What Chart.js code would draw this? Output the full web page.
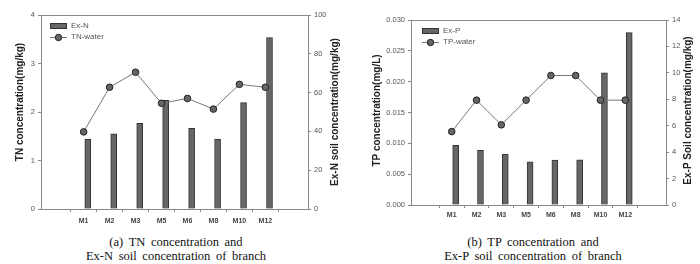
<!DOCTYPE html>
<html>
<head>
<meta charset="utf-8">
<script src="https://cdn.jsdelivr.net/npm/chart.js@4.4.1/dist/chart.umd.min.js"></script>
<style>
  html, body { margin: 0; padding: 0; background: #fff; }
  #wrap { position: relative; width: 700px; height: 264px; overflow: hidden; }
  .panel { position: absolute; top: 0; width: 350px; height: 235px; }
  .cap {
    position: absolute; top: 235px; width: 352px; text-align: center;
    font-family: "Liberation Serif", "Times New Roman", serif;
    font-size: 12.5px; line-height: 14px; word-spacing: 2.5px; color: #111;
  }
</style>
</head>
<body>
<div id="wrap">
  <div class="panel" style="left:0"><canvas id="chartA" width="350" height="235"></canvas></div>
  <div class="panel" style="left:350px"><canvas id="chartB" width="350" height="235"></canvas></div>
  <div class="cap" style="left:0">(a) TN concentration and<br>Ex-N soil concentration of branch</div>
  <div class="cap" style="left:357px">(b) TP concentration and<br>Ex-P soil concentration of branch</div>
</div>
<script>
// Sites (same for both panels)
const sites = ['M1', 'M2', 'M3', 'M5', 'M6', 'M8', 'M10', 'M12'];

// (a) nitrogen
const exN = [36.0, 38.7, 44.2, 56.0, 41.6, 36.0, 54.8, 88.3];      // mg/kg, right axis
const tnWater = [1.59, 2.51, 2.82, 2.18, 2.28, 2.06, 2.57, 2.51];  // left axis

// (b) phosphorus
const exP = [4.52, 4.14, 3.86, 3.26, 3.39, 3.41, 10.0, 13.05];      // mg/kg, right axis
const tpWater = [0.0119, 0.017, 0.013, 0.017, 0.021, 0.021, 0.017, 0.017]; // mg/L, left axis

// bars sit just right of the category tick
const BAR_SHIFT = 0.16;

const SANS = '"Liberation Sans", Arial, sans-serif';
const AXIS_COLOR = '#888';

// top edge of the plot box
const boxTop = {
  id: 'boxTop',
  afterDraw(chart) {
    const { ctx, chartArea: a } = chart;
    ctx.save();
    ctx.strokeStyle = AXIS_COLOR;
    ctx.lineWidth = 1;
    ctx.beginPath();
    ctx.moveTo(a.left, a.top + 0.5);
    ctx.lineTo(a.right, a.top + 0.5);
    ctx.stroke();
    ctx.restore();
  }
};

// both y titles read bottom-to-top
const axisTitles = {
  id: 'axisTitles',
  afterDraw(chart, args, o) {
    const { ctx, chartArea: a } = chart;
    const mid = (a.top + a.bottom) / 2;
    ctx.save();
    ctx.font = 'bold 10px ' + SANS;
    ctx.fillStyle = '#222';
    ctx.textAlign = 'center';
    ctx.textBaseline = 'middle';
    [[o.left, a.left - o.leftGap, o.leftDy], [o.right, a.right + o.rightGap, o.rightDy]].forEach(([t, x, dy]) => {
      ctx.save();
      ctx.translate(x, mid + dy);
      ctx.rotate(-Math.PI / 2);
      ctx.fillText(t, 0, 0);
      ctx.restore();
    });
    ctx.restore();
  }
};

// small SigmaPlot-like legend
const miniLegend = {
  id: 'miniLegend',
  afterDraw(chart, args, o) {
    const { ctx, chartArea: a } = chart;
    const x0 = a.left + o.dx, y0 = a.top + o.dy;
    ctx.save();
    ctx.font = '8px ' + SANS;
    ctx.textBaseline = 'middle';
    // draw bar entry first, line entry below
    const ds = chart.data.datasets.slice().sort((p, q) => (p.type === 'bar' ? -1 : 1));
    ds.forEach((d, i) => {
      const y = y0 + i * 11;
      if (d.type === 'bar') {
        ctx.fillStyle = d.backgroundColor;
        ctx.strokeStyle = d.borderColor;
        ctx.fillRect(x0, y - 2.5, 17, 5);
        ctx.strokeRect(x0 + 0.5, y - 2.5, 16, 5);
      } else {
        ctx.strokeStyle = d.borderColor;
        ctx.lineWidth = 1;
        ctx.beginPath();
        ctx.moveTo(x0, y + 0.5);
        ctx.lineTo(x0 + 17, y + 0.5);
        ctx.stroke();
        ctx.beginPath();
        ctx.arc(x0 + 8.5, y + 0.5, 3.2, 0, Math.PI * 2);
        ctx.fillStyle = d.pointBackgroundColor;
        ctx.fill();
        ctx.strokeStyle = d.pointBorderColor;
        ctx.stroke();
      }
      ctx.fillStyle = '#555';
      ctx.fillText(d.label, x0 + 21, y);
    });
    ctx.restore();
  }
};

function buildChart(el, cfg) {
  const xy = (vals, shift) => vals.map((v, i) => ({ x: i + shift, y: v }));
  const tickFont = { family: SANS, size: 7.5 };
  const yAxis = (pos, range, width) => ({
    position: pos,
    min: range[0], max: range[1],
    ticks: {
      stepSize: range[2], color: '#555', font: tickFont, padding: 3,
      callback: v => cfg.decimals ? (pos === 'left' ? v.toFixed(cfg.decimals) : v) : v
    },
    grid: { drawOnChartArea: false, tickLength: 3, color: AXIS_COLOR },
    border: { color: AXIS_COLOR },
    afterFit: s => { s.width = width; }
  });

  return new Chart(el, {
    data: {
      datasets: [{
        type: 'line',
        label: cfg.lineLabel,
        data: xy(cfg.lineVals, 0),
        yAxisID: 'y',
        order: 0,
        borderColor: '#777',
        borderWidth: 1,
        pointRadius: 3.3,
        pointBackgroundColor: '#666',
        pointBorderColor: '#222',
        pointBorderWidth: 1
      }, {
        type: 'bar',
        label: cfg.barLabel,
        data: xy(cfg.barVals, BAR_SHIFT),
        yAxisID: 'y1',
        order: 1,
        backgroundColor: '#666',
        borderColor: '#333',
        borderWidth: 1,
        barThickness: 6
      }]
    },
    options: {
      responsive: false,
      animation: false,
      layout: { padding: { top: cfg.top, left: 0, right: 0, bottom: 0 } },
      plugins: {
        legend: { display: false },
        tooltip: { enabled: false },
        axisTitles: cfg.titles,
        miniLegend: { dx: cfg.legendDx, dy: 11 }
      },
      scales: {
        x: {
          type: 'linear',
          min: -1, max: 8,
          afterBuildTicks: s => { s.ticks = sites.map((c, i) => ({ value: i })); },
          ticks: {
            autoSkip: false, maxRotation: 0, color: '#444', padding: cfg.xPad,
            font: { family: SANS, size: 7, weight: 'bold' },
            callback: v => sites[v] ?? ''
          },
          grid: { drawOnChartArea: false, tickLength: 3, color: AXIS_COLOR },
          border: { color: AXIS_COLOR },
          afterFit: s => { s.height = cfg.xHeight; }
        },
        y: yAxis('left', cfg.leftRange, cfg.leftWidth),
        y1: yAxis('right', cfg.rightRange, cfg.rightWidth)
      }
    },
    plugins: [boxTop, axisTitles, miniLegend]
  });
}

buildChart(document.getElementById('chartA'), {
  lineLabel: 'TN-water', lineVals: tnWater,
  barLabel: 'Ex-N', barVals: exN,
  leftRange: [0, 4, 1], rightRange: [0, 100, 20],
  leftWidth: 41, rightWidth: 42, xHeight: 26, top: 15, xPad: 5,
  legendDx: 9,
  titles: { left: 'TN concentration(mg/kg)', leftGap: 21, leftDy: -10,
            right: 'Ex-N soil concentration(mg/kg)', rightGap: 27, rightDy: 0 }
});

buildChart(document.getElementById('chartB'), {
  lineLabel: 'TP-water', lineVals: tpWater,
  barLabel: 'Ex-P', barVals: exP,
  leftRange: [0, 0.03, 0.005], rightRange: [0, 14, 2], decimals: 3,
  leftWidth: 61, rightWidth: 34, xHeight: 30, top: 20, xPad: 3,
  legendDx: 11,
  titles: { left: 'TP concentration(mg/L)', leftGap: 34, leftDy: -2,
            right: 'Ex-P Soil concentration(mg/kg)', rightGap: 22, rightDy: -2 }
});
</script>
</body>
</html>
